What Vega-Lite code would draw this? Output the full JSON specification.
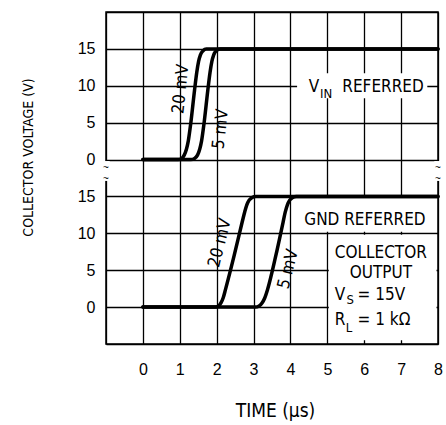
{
  "$schema": "https://vega.github.io/schema/vega-lite/v6.json",
  "width": 332,
  "height": 332,
  "autosize": {"type": "none"},
  "padding": {"left": 106, "top": 12, "right": 8, "bottom": 81},
  "background": "white",
  "view": {"stroke": "black", "strokeWidth": 1.5},
  "config": {"font": "Liberation Sans"},
  "datasets": {
    "curves": [
      {"s": "u20", "t": 0, "v": 20}, {"s": "u20", "t": 0.95, "v": 20}, {"s": "u20", "t": 1.05, "v": 20.15}, {"s": "u20", "t": 1.12, "v": 20.6}, {"s": "u20", "t": 1.18, "v": 21.4}, {"s": "u20", "t": 1.23, "v": 22.5}, {"s": "u20", "t": 1.3, "v": 25.0}, {"s": "u20", "t": 1.4, "v": 29.4}, {"s": "u20", "t": 1.46, "v": 31.8}, {"s": "u20", "t": 1.51, "v": 33.3}, {"s": "u20", "t": 1.56, "v": 34.2}, {"s": "u20", "t": 1.63, "v": 34.75}, {"s": "u20", "t": 1.72, "v": 35}, {"s": "u20", "t": 8, "v": 35},
      {"s": "u5", "t": 0, "v": 20}, {"s": "u5", "t": 1.3, "v": 20}, {"s": "u5", "t": 1.4, "v": 20.15}, {"s": "u5", "t": 1.48, "v": 20.6}, {"s": "u5", "t": 1.54, "v": 21.4}, {"s": "u5", "t": 1.59, "v": 22.5}, {"s": "u5", "t": 1.66, "v": 25.0}, {"s": "u5", "t": 1.76, "v": 29.4}, {"s": "u5", "t": 1.82, "v": 31.8}, {"s": "u5", "t": 1.87, "v": 33.3}, {"s": "u5", "t": 1.92, "v": 34.2}, {"s": "u5", "t": 1.99, "v": 34.75}, {"s": "u5", "t": 2.1, "v": 35}, {"s": "u5", "t": 8, "v": 35},
      {"s": "g20", "t": 0, "v": 0}, {"s": "g20", "t": 1.95, "v": 0}, {"s": "g20", "t": 2.05, "v": 0.15}, {"s": "g20", "t": 2.12, "v": 0.6}, {"s": "g20", "t": 2.18, "v": 1.3}, {"s": "g20", "t": 2.24, "v": 2.4}, {"s": "g20", "t": 2.47, "v": 6.9}, {"s": "g20", "t": 2.69, "v": 11.5}, {"s": "g20", "t": 2.76, "v": 12.9}, {"s": "g20", "t": 2.82, "v": 13.9}, {"s": "g20", "t": 2.88, "v": 14.5}, {"s": "g20", "t": 2.96, "v": 14.85}, {"s": "g20", "t": 3.06, "v": 15}, {"s": "g20", "t": 8, "v": 15},
      {"s": "g5", "t": 0, "v": 0}, {"s": "g5", "t": 3.05, "v": 0}, {"s": "g5", "t": 3.15, "v": 0.15}, {"s": "g5", "t": 3.23, "v": 0.55}, {"s": "g5", "t": 3.3, "v": 1.2}, {"s": "g5", "t": 3.38, "v": 2.4}, {"s": "g5", "t": 3.6, "v": 6.9}, {"s": "g5", "t": 3.8, "v": 11.5}, {"s": "g5", "t": 3.86, "v": 12.9}, {"s": "g5", "t": 3.92, "v": 13.9}, {"s": "g5", "t": 3.98, "v": 14.5}, {"s": "g5", "t": 4.06, "v": 14.85}, {"s": "g5", "t": 4.16, "v": 15}, {"s": "g5", "t": 8, "v": 15}
    ],
    "boxes": [
      {"name": "vin", "t": 4.18, "t2": 7.71, "v": 28.3, "v2": 31.7},
      {"name": "gnd", "t": 4.04, "t2": 7.96, "v": 10.2, "v2": 14.8},
      {"name": "coll", "t": 5.04, "t2": 7.96, "v": -4.5, "v2": 9.8},
      {"name": "breakL", "t": -1.1, "t2": -0.9, "v": 17.1, "v2": 19.8},
      {"name": "breakR", "t": 7.9, "t2": 8.1, "v": 17.1, "v2": 19.8}
    ],
    "rotUpper": [
      {"label": "20 mV", "t": 1.03, "v": 29.56},
      {"label": "5 mV", "t": 2.11, "v": 24.14}
    ],
    "rotLower": [
      {"label": "20 mV", "t": 2.09, "v": 8.69},
      {"label": "5 mV", "t": 3.94, "v": 5.16}
    ],
    "centerText": [
      {"label": "V", "t": 4.64, "v": 29.2},
      {"label": "REFERRED", "t": 6.51, "v": 29.2},
      {"label": "GND REFERRED", "t": 6.02, "v": 11.13},
      {"label": "COLLECTOR", "t": 6.45, "v": 6.6},
      {"label": "OUTPUT", "t": 6.45, "v": 3.9}
    ],
    "leftText": [
      {"label": "V", "t": 5.2, "v": 0.96},
      {"label": "= 15V", "t": 5.82, "v": 0.96},
      {"label": "R", "t": 5.2, "v": -2.43},
      {"label": "= 1 kΩ", "t": 5.82, "v": -2.43}
    ],
    "subText": [
      {"label": "IN", "t": 4.8, "v": 28.3},
      {"label": "S", "t": 5.52, "v": 0.4},
      {"label": "L", "t": 5.5, "v": -3.33}
    ],
    "tildes": [
      {"label": "~", "t": -1, "v": 18.9},
      {"label": "~", "t": -1, "v": 17.4},
      {"label": "~", "t": 8, "v": 18.9},
      {"label": "~", "t": 8, "v": 17.4}
    ]
  },
  "encoding": {
    "x": {
      "field": "t",
      "type": "quantitative",
      "scale": {"domain": [-1, 8], "nice": false, "zero": false},
      "axis": {
        "values": [-1, 0, 1, 2, 3, 4, 5, 6, 7, 8],
        "grid": true, "gridColor": "black", "gridWidth": 1.3, "gridOpacity": 1,
        "domain": false, "ticks": false, "tickSize": 0,
        "labelExpr": "datum.value < 0 ? '' : datum.label",
        "labelPadding": 17, "labelFont": "Liberation Sans", "labelFontSize": 16, "labelColor": "black",
        "labelFlush": false, "labelOverlap": false,
        "title": "TIME (µs)", "titleFont": "DejaVu Sans Condensed, Liberation Sans", "titleFontSize": 19, "titleFontWeight": "normal",
        "titleColor": "black", "titleX": 169, "titleY": 72, "titleBaseline": "alphabetic", "titleAlign": "center",
        "zindex": 0
      }
    },
    "y": {
      "field": "v",
      "type": "quantitative",
      "scale": {"domain": [-5, 40], "nice": false, "zero": false},
      "axis": {
        "values": [-5, 0, 5, 10, 15, 20, 25, 30, 35, 40],
        "grid": true, "gridColor": "black", "gridWidth": 1.3, "gridOpacity": 1,
        "domain": false, "ticks": false, "tickSize": 0,
        "labelExpr": "datum.value < 0 || datum.value > 35 ? '' : (datum.value >= 20 ? format(datum.value - 20, 'd') : datum.label)",
        "labelPadding": 11, "labelFont": "Liberation Sans", "labelFontSize": 16, "labelColor": "black",
        "labelFlush": false, "labelOverlap": false,
        "title": "COLLECTOR VOLTAGE (V)", "titleFont": "DejaVu Sans Condensed, Liberation Sans", "titleFontSize": 14, "titleFontWeight": "normal",
        "titleColor": "black", "titleX": -78, "titleY": 145, "titleAngle": -90, "titleBaseline": "middle", "titleAlign": "center",
        "zindex": 0
      }
    }
  },
  "layer": [
    {
      "data": {"name": "boxes"},
      "mark": {"type": "rect", "fill": "white", "strokeWidth": 0},
      "encoding": {"x2": {"field": "t2"}, "y2": {"field": "v2"}}
    },
    {
      "data": {"name": "curves"},
      "mark": {"type": "line", "interpolate": "monotone", "color": "black", "strokeWidth": 3.5, "strokeCap": "round", "strokeJoin": "round"},
      "encoding": {"detail": {"field": "s"}}
    },
    {
      "data": {"name": "rotUpper"},
      "mark": {"type": "text", "angle": 276, "font": "DejaVu Sans Condensed, Liberation Sans", "fontSize": 17, "align": "center", "baseline": "middle", "color": "black"},
      "encoding": {"text": {"field": "label"}}
    },
    {
      "data": {"name": "rotLower"},
      "mark": {"type": "text", "angle": 284, "font": "DejaVu Sans Condensed, Liberation Sans", "fontSize": 17, "align": "center", "baseline": "middle", "color": "black"},
      "encoding": {"text": {"field": "label"}}
    },
    {
      "data": {"name": "centerText"},
      "mark": {"type": "text", "font": "DejaVu Sans Condensed, Liberation Sans", "fontSize": 17, "align": "center", "baseline": "alphabetic", "color": "black"},
      "encoding": {"text": {"field": "label"}}
    },
    {
      "data": {"name": "leftText"},
      "mark": {"type": "text", "font": "DejaVu Sans Condensed, Liberation Sans", "fontSize": 17, "align": "left", "baseline": "alphabetic", "color": "black"},
      "encoding": {"text": {"field": "label"}}
    },
    {
      "data": {"name": "subText"},
      "mark": {"type": "text", "font": "DejaVu Sans Condensed, Liberation Sans", "fontSize": 13, "align": "left", "baseline": "alphabetic", "color": "black"},
      "encoding": {"text": {"field": "label"}}
    },
    {
      "data": {"name": "tildes"},
      "mark": {"type": "text", "font": "Liberation Sans", "fontSize": 10, "align": "center", "baseline": "middle", "color": "black"},
      "encoding": {"text": {"field": "label"}}
    }
  ]
}
